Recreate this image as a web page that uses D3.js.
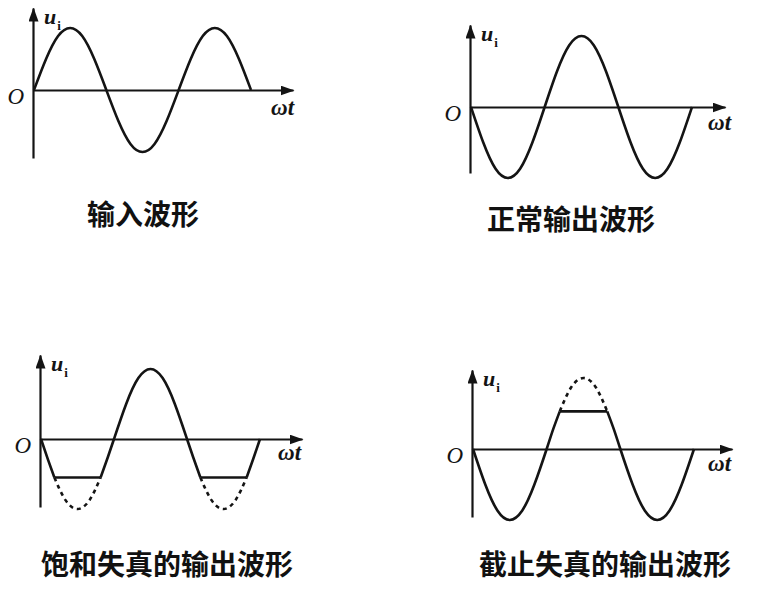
<!DOCTYPE html>
<html><head><meta charset="utf-8">
<script src="https://cdn.jsdelivr.net/npm/d3@7"></script>
<style>body{margin:0;background:#fff}</style>
</head><body><svg id="c" width="761" height="610"></svg>
<script>
// ---------- data (phase in degrees, amplitude normalised to peak = 1) ----------
const titles = ["输入波形", "正常输出波形", "饱和失真的输出波形", "截止失真的输出波形"];
const yLabel = "u", ySub = "i", xLabel = "ωt", originLabel = "O";

const phaseDeg = [0,30,60,90,120,150,180,210,240,270,300,330,360,390,420,450,480,510,540];
const inputU   = [0,0.5,0.87,1,0.87,0.5,0,-0.5,-0.87,-1,-0.87,-0.5,0,0.5,0.87,1,0.87,0.5,0];
const normalU  = [0,-0.5,-0.87,-1,-0.87,-0.5,0,0.5,0.87,1,0.87,0.5,0,-0.5,-0.87,-1,-0.87,-0.5,0];

// saturation distortion: negative half-waves flattened
const satPhase  = [0,17,33,147,163,180,210,240,270,300,330,360,377,393,507,523,540];
const satU      = [0,-0.29,-0.55,-0.55,-0.29,0,0.5,0.87,1,0.87,0.5,0,-0.29,-0.55,-0.55,-0.29,0];
const satBreaks = [33,147,393,507];
const satDashPhase = [[33,60,90,120,147],[393,420,450,480,507]];
const satDashU     = [[-0.55,-0.87,-1,-0.87,-0.55],[-0.55,-0.87,-1,-0.87,-0.55]];

// cut-off distortion: positive half-wave flattened
const cutPhase  = [0,30,60,90,120,150,180,196,212,328,344,360,390,420,450,480,510,540];
const cutU      = [0,-0.5,-0.87,-1,-0.87,-0.5,0,0.28,0.53,0.53,0.28,0,-0.5,-0.87,-1,-0.87,-0.5,0];
const cutBreaks = [212,328];
const cutDashPhase = [[212,240,270,300,328]];
const cutDashU     = [[0.53,0.87,1,0.87,0.53]];

// ---------- layout ----------
const panels = [
  {ox:33, oy:90, top:8, bottom:158, right:293, xEnd:251, A:62, tx:143, ty:225, wx:271, wy:115,
   solid:[phaseDeg, inputU, []], dash:[[],[]]},
  {ox:470, oy:107, top:25, bottom:173, right:725, xEnd:692, A:71, tx:571, ty:230, wx:708, wy:130,
   solid:[phaseDeg, normalU, []], dash:[[],[]]},
  {ox:40, oy:439, top:355, bottom:507, right:302, xEnd:260, A:70, tx:167, ty:575, wx:278, wy:460,
   solid:[satPhase, satU, satBreaks], dash:[satDashPhase, satDashU]},
  {ox:472, oy:449, top:370, bottom:517, right:732, xEnd:694, A:71, tx:605, ty:575, wx:708, wy:471,
   solid:[cutPhase, cutU, cutBreaks], dash:[cutDashPhase, cutDashU]}
];

const ink = "#141414";
const svg = d3.select("#c");
svg.append("rect").attr("width",761).attr("height",610).attr("fill","#fff");

svg.append("defs").append("marker")
  .attr("id","arrow").attr("markerUnits","userSpaceOnUse")
  .attr("viewBox","0 -5 14 10").attr("refX",13).attr("refY",0)
  .attr("markerWidth",14).attr("markerHeight",10).attr("orient","auto")
  .append("path").attr("d","M0,-5L14,0L0,5Z").attr("fill",ink);

function split(ph, vals, breaks){
  const pieces = [[]];
  ph.forEach((p,i)=>{
    pieces[pieces.length-1].push([p, vals[i]]);
    if (breaks.includes(p) && i>0 && i<ph.length-1) pieces.push([[p, vals[i]]]);
  });
  return pieces;
}

const serif = "'Liberation Serif', 'Times New Roman', serif";

panels.forEach((P, k) => {
  const g = svg.append("g");
  const x = d3.scaleLinear().domain([0,540]).range([P.ox+1, P.xEnd]);
  const y = d3.scaleLinear().domain([-1,1]).range([P.oy+P.A, P.oy-P.A]);

  // axes (no ticks), with arrow heads
  const xAxisScale = d3.scaleLinear().domain([0,1]).range([P.ox, P.right]);
  const yAxisScale = d3.scaleLinear().domain([0,1]).range([P.bottom, P.top]);
  const xa = g.append("g").attr("transform",`translate(0,${P.oy})`)
    .call(d3.axisBottom(xAxisScale).tickValues([]).tickSizeOuter(0));
  const ya = g.append("g").attr("transform",`translate(${P.ox},0)`)
    .call(d3.axisLeft(yAxisScale).tickValues([]).tickSizeOuter(0));
  [xa, ya].forEach(a => a.select(".domain").attr("stroke",ink).attr("stroke-width",2.2)
    .attr("marker-end","url(#arrow)"));

  const line = d3.line().x(d=>x(d[0])).y(d=>y(d[1])).curve(d3.curveNatural);

  // solid waveform
  split(P.solid[0], P.solid[1], P.solid[2]).forEach(piece => {
    g.append("path").attr("d", line(piece)).attr("fill","none")
      .attr("stroke",ink).attr("stroke-width",2.6).attr("stroke-linejoin","round");
  });
  // dashed (undistorted) parts
  P.dash[0].forEach((ph, j) => {
    const pts = ph.map((p,i)=>[p, P.dash[1][j][i]]);
    g.append("path").attr("d", line(pts)).attr("fill","none")
      .attr("stroke",ink).attr("stroke-width",2.6).attr("stroke-dasharray","4,4");
  });

  // axis labels
  const lab = g.append("text").attr("x",P.ox+11).attr("y",P.top+16)
    .attr("font-family",serif).attr("font-style","italic").attr("font-weight","bold")
    .attr("font-size",22).attr("fill",ink);
  lab.append("tspan").text(yLabel);
  lab.append("tspan").attr("font-size",13).attr("font-style","normal").attr("dy",6).attr("dx",1).text(ySub);

  g.append("text").attr("x",P.ox-9).attr("y",P.oy+14).attr("text-anchor","end")
    .attr("font-family",serif).attr("font-style","italic")
    .attr("font-size",23).attr("fill",ink).text(originLabel);

  g.append("text").attr("x",P.wx).attr("y",P.wy)
    .attr("font-family",serif).attr("font-style","italic").attr("font-weight","bold")
    .attr("font-size",23).attr("fill",ink).text(xLabel);

  // title
  g.append("text").attr("x",P.tx).attr("y",P.ty).attr("text-anchor","middle")
    .attr("font-family","'Noto Sans CJK SC', sans-serif").attr("font-weight","bold")
    .attr("font-size",28).attr("fill","#111").text(titles[k]);
});
</script></body></html>
